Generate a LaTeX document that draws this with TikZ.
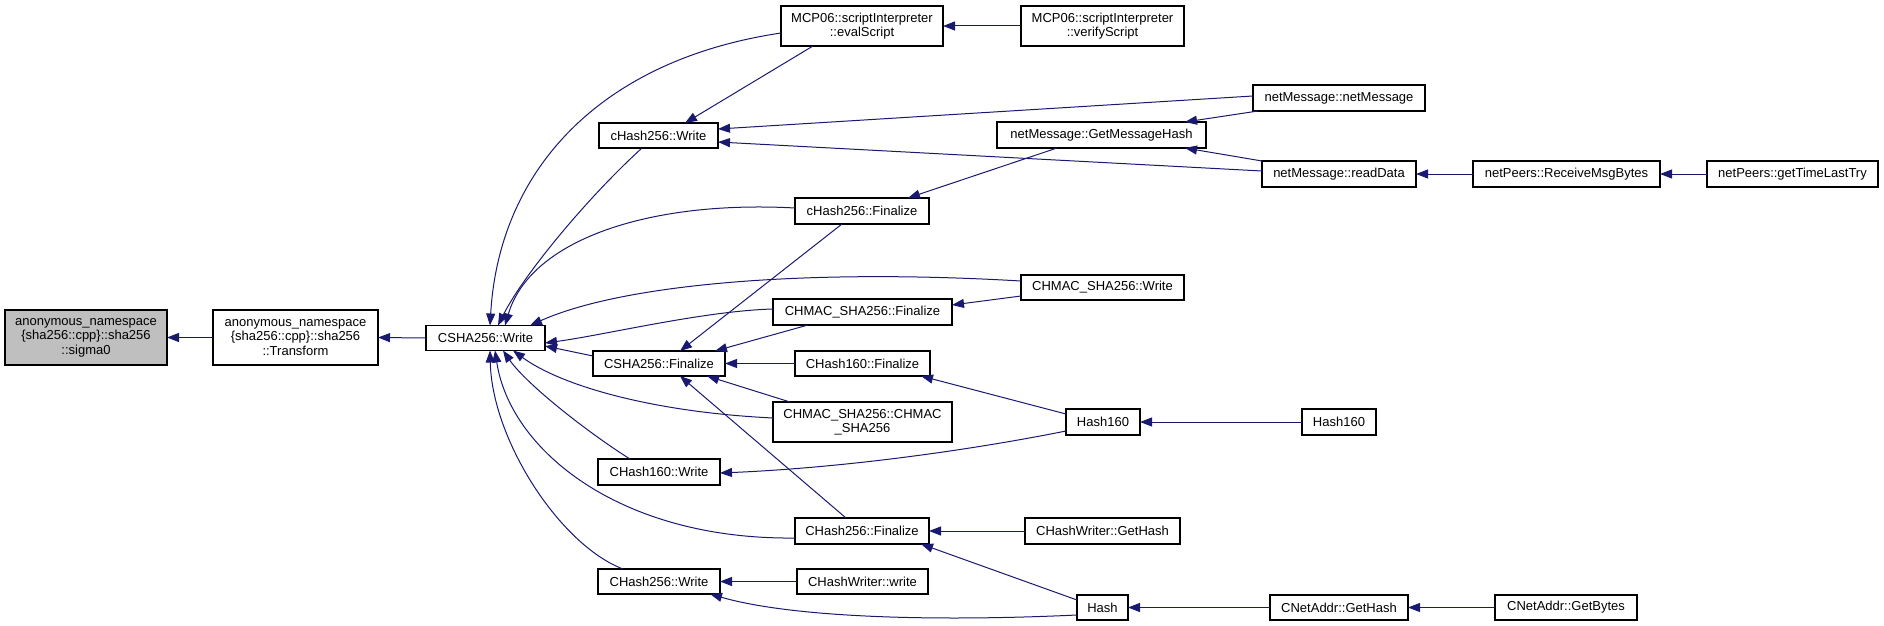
\documentclass[tikz,border=0pt]{standalone}
\usepackage{fontspec}
\setmainfont{Liberation Sans}
\usepackage{tikz}
\usetikzlibrary{arrows.meta}
\definecolor{callNavy}{HTML}{191970}
\definecolor{rootGray}{HTML}{BFBFBF}
\tikzset{
  callNode/.style={draw=black, line width=1.1pt, fill=white, align=center, font=\fontsize{13pt}{14.5pt}\selectfont, inner sep=2pt, outer sep=0pt, minimum height=26pt},
  callRoot/.style={callNode, fill=rootGray},
  callArrow/.style={->, draw=callNavy, line width=1pt}
}

\begin{document}
\begin{tikzpicture}[x=1pt, y=-1pt, >={Triangle[length=12pt,width=9pt]}]
      \useasboundingbox (0,0) rectangle (1884,626);
      \node[callRoot, minimum width=162pt, minimum height=55pt] (sigma) at (86,337.5) {anonymous\_namespace\\\{sha256::cpp\}::sha256\\::sigma0};
      \node[callNode, minimum width=165pt, minimum height=55pt] (transform) at (295.5,337.5) {anonymous\_namespace\\\{sha256::cpp\}::sha256\\::Transform};
      \node[callNode, minimum width=119pt, minimum height=25pt] (cshaw) at (485.5,338) {CSHA256::Write};

      \node[callNode, minimum width=162pt, minimum height=40pt] (evalscr) at (862,26) {MCP06::scriptInterpreter\\::evalScript};
      \node[callNode, minimum width=163pt, minimum height=40pt] (verifyscr) at (1102.5,26) {MCP06::scriptInterpreter\\::verifyScript};
      \node[callNode, minimum width=119pt, minimum height=25pt] (chw) at (658.5,135.5) {cHash256::Write};
      \node[callNode, minimum width=209pt] (getmsghash) at (1101.5,135) {netMessage::GetMessageHash};
      \node[callNode, minimum width=172pt] (netmsg) at (1339,98) {netMessage::netMessage};
      \node[callNode, minimum width=154pt] (readdata) at (1339,174) {netMessage::readData};
      \node[callNode, minimum width=187pt] (recvmsg) at (1566.5,174) {netPeers::ReceiveMsgBytes};
      \node[callNode, minimum width=171pt] (gettime) at (1792.5,174) {netPeers::getTimeLastTry};
      \node[callNode, minimum width=134pt] (chf) at (862,211) {cHash256::Finalize};
      \node[callNode, minimum width=163pt, minimum height=25pt] (hmacw) at (1102.5,287.5) {CHMAC\_SHA256::Write};
      \node[callNode, minimum width=179pt] (hmacf) at (862.5,312) {CHMAC\_SHA256::Finalize};
      \node[callNode, minimum width=132pt, minimum height=25pt] (cshaf) at (659,363.5) {CSHA256::Finalize};
      \node[callNode, minimum width=135pt, minimum height=25pt] (h160f) at (862.5,363.5) {CHash160::Finalize};
      \node[callNode, minimum width=179pt, minimum height=40pt] (hmacc) at (862.5,422) {CHMAC\_SHA256::CHMAC\\\_SHA256};
      \node[callNode, minimum width=74pt] (hasha) at (1103,422) {Hash160};
      \node[callNode, minimum width=74pt] (hashb) at (1339,422) {Hash160};
      \node[callNode, minimum width=122pt] (h160w) at (659,472) {CHash160::Write};
      \node[callNode, minimum width=134pt] (hash256f) at (862,531) {CHash256::Finalize};
      \node[callNode, minimum width=155pt] (gethash) at (1102.5,531) {CHashWriter::GetHash};
      \node[callNode, minimum width=122pt, minimum height=25pt] (hash256w) at (659,581.5) {CHash256::Write};
      \node[callNode, minimum width=131pt, minimum height=25pt] (hwwrite) at (862.5,581.5) {CHashWriter::write};
      \node[callNode, minimum width=51pt, minimum height=25pt] (hash) at (1102.5,607.5) {Hash};
      \node[callNode, minimum width=138pt, minimum height=25pt] (addrhash) at (1339,607.5) {CNetAddr::GetHash};
      \node[callNode, minimum width=142pt, minimum height=25pt] (addrbytes) at (1566,607.5) {CNetAddr::GetBytes};

      \draw[callArrow] (transform.west) -- (sigma.east);
      \draw[callArrow] (cshaw.west) -- (transform.east);
      \draw[callArrow] (verifyscr.west) -- (evalscr.east);
      \draw[callArrow] (recvmsg.west) -- (readdata.east);
      \draw[callArrow] (gettime.west) -- (recvmsg.east);
      \draw[callArrow] (h160f.west) -- (cshaf.east);
      \draw[callArrow] (hashb.west) -- (hasha.east);
      \draw[callArrow] (gethash.west) -- (hash256f.east);
      \draw[callArrow] (hwwrite.west) -- (hash256w.east);
      \draw[callArrow] (addrhash.west) -- (hash.east);
      \draw[callArrow] (addrbytes.west) -- (addrhash.east);

      \draw[callArrow] ([yshift=-7pt]evalscr.west) .. controls +(-181,27) and +(9,-155.5) .. ([xshift=4.5pt]cshaw.north);
      \draw[callArrow] ([xshift=-16.5pt]chw.south) .. controls +(-55,50) and +(25,-50) .. ([xshift=12.5pt]cshaw.north);
      \draw[callArrow] ([yshift=3pt]chf.west) .. controls +(-146,-8) and +(25,-85.5) .. ([xshift=19.5pt]cshaw.north);
      \draw[callArrow] ([yshift=6.5pt]hmacw.west) .. controls +(-221,-13) and +(90,-40.5) .. ([xshift=44.5pt]cshaw.north);
      \draw[callArrow] ([yshift=3pt]hmacf.west) .. controls +(-70,2) and +(60,-8) .. ([yshift=-5pt]cshaw.east);
      \draw[callArrow] ([yshift=7.5pt]cshaf.west) -- ([yshift=-8pt]cshaw.east);
      \draw[callArrow] ([yshift=4pt]hmacc.west) .. controls +(-123,-6) and +(47,34.5) .. ([xshift=27.5pt]cshaw.south);
      \draw[callArrow] ([xshift=-29pt]h160w.north) .. controls +(-40,-25) and +(24,34.5) .. ([xshift=17.5pt]cshaw.south);
      \draw[callArrow] ([yshift=-7pt]hash256f.west) .. controls +(-175,2) and +(15,99.5) .. ([xshift=9.5pt]cshaw.south);
      \draw[callArrow] ([xshift=-36pt]hash256w.north) .. controls +(-63,-24) and +(2,89.5) .. ([xshift=4.5pt]cshaw.south);

      \draw[callArrow] ([xshift=-49pt]evalscr.south) -- ([xshift=26.5pt]chw.north);
      \draw[callArrow] ([yshift=2pt]netmsg.west) -- ([yshift=6.5pt]chw.east);
      \draw[callArrow] ([yshift=3pt]readdata.west) -- ([yshift=-6.5pt]chw.east);
      \draw[callArrow] ([xshift=-81pt]netmsg.south) -- ([xshift=83.5pt]getmsghash.north);
      \draw[callArrow] ([xshift=-77pt]readdata.north) -- ([xshift=83.5pt]getmsghash.south);
      \draw[callArrow] ([xshift=-44.5pt]getmsghash.south) -- ([xshift=46pt]chf.north);

      \draw[callArrow] ([xshift=-20pt]chf.south) -- ([xshift=21pt]cshaf.north);
      \draw[callArrow] ([xshift=-54.5pt]hmacf.south) -- ([xshift=56pt]cshaf.north);
      \draw[callArrow] ([xshift=-72.5pt]hmacc.north) -- ([xshift=48pt]cshaf.south);
      \draw[callArrow] ([xshift=-16pt]hash256f.north) -- ([xshift=21pt]cshaf.south);
      \draw[callArrow] ([yshift=-8.5pt]hmacw.west) -- ([yshift=7pt]hmacf.east);
      \draw[callArrow] ([yshift=8pt]hasha.west) -- ([xshift=58.5pt]h160f.south);
      \draw[callArrow] ([yshift=-9pt]hasha.west) .. controls +(-100,20) and +(120,-5) .. ([yshift=-1pt]h160w.east);
      \draw[callArrow] ([yshift=7.5pt]hash.west) -- ([xshift=59pt]hash256f.south);
      \draw[callArrow] ([yshift=-7.5pt]hash.west) .. controls +(-150,7) and +(80,23) .. ([xshift=51pt]hash256w.south);
    \end{tikzpicture}
\end{document}
